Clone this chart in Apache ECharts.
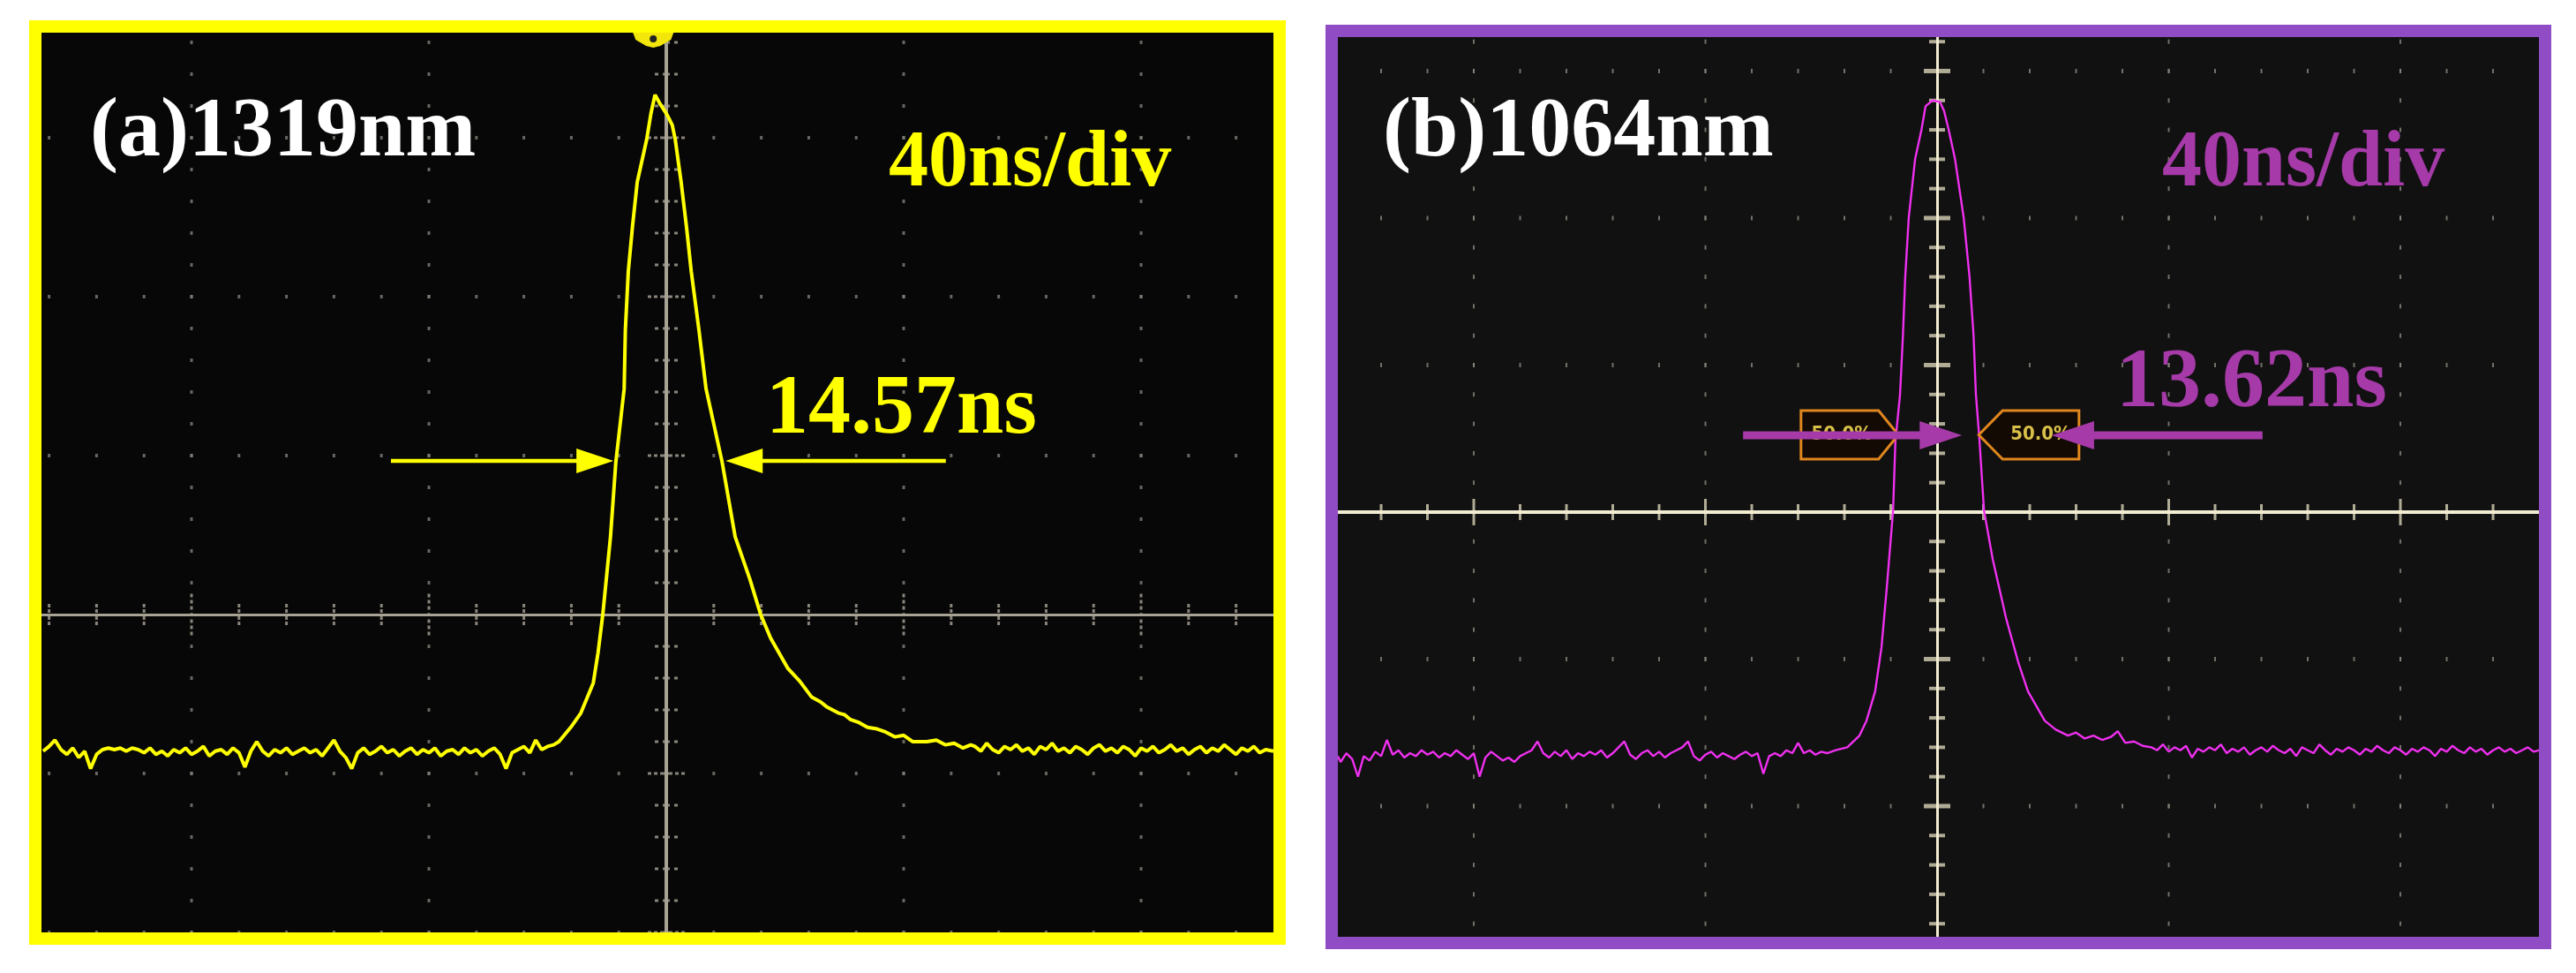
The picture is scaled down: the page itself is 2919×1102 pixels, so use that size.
<!DOCTYPE html>
<html><head><meta charset="utf-8">
<script src="https://cdn.jsdelivr.net/npm/echarts/dist/echarts.min.js"></script>
<style>html,body{margin:0;padding:0;background:#fff}#c{width:2919px;height:1102px}</style>
</head><body><div id="c"></div><script>
// ---- data (time in ns, amplitude in divisions) ----
const titles = ['(a)1319nm', '(b)1064nm'];
const scaleLabel = '40ns/div';
const widthLabels = ['14.57ns', '13.62ns'];
const markerLabel = '50.0%';
const majorX = [-80, -40, 40, 80];
const rowsA = [-2, -1, 1, 2, 3];
const rowsB = [-2, -1, 1, 2, 3];
const minorX = 8, minorY = 0.2;

const trace1319 = [
[-105,-0.86],[-104,-0.83],[-103,-0.79],[-102,-0.85],[-101,-0.88],[-100,-0.84],[-99,-0.90],[-98,-0.86],[-97,-0.97],[-96,-0.88],
[-95,-0.85],[-94,-0.84],[-93,-0.85],[-92,-0.84],[-91,-0.86],[-90,-0.84],[-89,-0.85],[-88,-0.87],[-87,-0.84],[-86,-0.88],
[-85,-0.86],[-84,-0.89],[-83,-0.85],[-82,-0.87],[-81,-0.84],[-80,-0.88],[-79,-0.86],[-78,-0.83],[-77,-0.89],[-76,-0.86],
[-75,-0.85],[-74,-0.88],[-73,-0.84],[-72,-0.87],[-71,-0.96],[-70,-0.86],[-69,-0.80],[-68,-0.86],[-67,-0.89],[-66,-0.85],
[-65,-0.87],[-64,-0.84],[-63,-0.88],[-62,-0.86],[-61,-0.84],[-60,-0.87],[-59,-0.85],[-58,-0.89],[-57,-0.84],[-56,-0.79],
[-55,-0.86],[-54,-0.90],[-53,-0.97],[-52,-0.87],[-51,-0.84],[-50,-0.88],[-49,-0.86],[-48,-0.83],[-47,-0.87],[-46,-0.85],
[-45,-0.89],[-44,-0.86],[-43,-0.84],[-42,-0.88],[-41,-0.85],[-40,-0.87],[-39,-0.84],[-38,-0.89],[-37,-0.86],[-36,-0.85],
[-35,-0.88],[-34,-0.84],[-33,-0.87],[-32,-0.85],[-31,-0.89],[-30,-0.86],[-29,-0.84],[-28,-0.88],[-27,-0.97],[-26,-0.87],
[-25,-0.85],[-24,-0.83],[-23,-0.87],[-22,-0.79],[-21,-0.85],[-20,-0.83],[-19,-0.82],
[-18.1,-0.80],[-16.1,-0.71],[-14.4,-0.62],[-12.3,-0.43],[-11.5,-0.24],[-10.7,0.0],[-9.4,0.49],[-8.5,0.96],[-7.1,1.42],[-6.9,1.79],
[-6.4,2.16],[-5.7,2.44],[-4.9,2.72],[-3.3,2.99],[-2.6,3.15],[-1.9,3.27],[-1.0,3.21],[0.2,3.14],[1.0,3.08],[1.5,2.99],
[2.5,2.72],[3.4,2.44],[4.2,2.16],[5.5,1.79],[6.7,1.42],[9.4,0.96],[11.6,0.49],[14.1,0.22],[15.9,0.0],[17.6,-0.15],
[20.5,-0.34],[22.5,-0.42],[24.5,-0.52],[26,-0.55],[27,-0.58],[28,-0.60],[29,-0.62],[30,-0.63],[31,-0.66],[32.5,-0.68],
[33.9,-0.71],[35.5,-0.72],[37,-0.74],[38.5,-0.77],[40,-0.76],[41.5,-0.80],[43.9,-0.80],[45.5,-0.79],[47,-0.82],[48.5,-0.81],
[50,-0.84],[51.3,-0.82],
[52,-0.83],[53,-0.86],[54,-0.81],[55,-0.85],[56,-0.87],[57,-0.83],[58,-0.85],[59,-0.82],[60,-0.86],[61,-0.84],
[62,-0.88],[63,-0.83],[64,-0.85],[65,-0.81],[66,-0.86],[67,-0.84],[68,-0.87],[69,-0.83],[70,-0.85],[71,-0.88],
[72,-0.84],[73,-0.82],[74,-0.86],[75,-0.84],[76,-0.87],[77,-0.83],[78,-0.85],[79,-0.89],[80,-0.84],[81,-0.86],
[82,-0.83],[83,-0.87],[84,-0.85],[85,-0.82],[86,-0.86],[87,-0.84],[88,-0.88],[89,-0.85],[90,-0.83],[91,-0.87],
[92,-0.84],[93,-0.86],[94,-0.82],[95,-0.85],[96,-0.88],[97,-0.84],[98,-0.86],[99,-0.83],[100,-0.87],[101,-0.85],[102.3,-0.86]
];

const trace1064 = [
[-103.5,-1.66],[-103,-1.70],[-102,-1.64],[-101,-1.68],[-100,-1.80],[-99,-1.66],[-98,-1.69],[-97,-1.63],[-96,-1.66],[-95,-1.55],[-94,-1.65],
[-93,-1.62],[-92,-1.67],[-91,-1.64],[-90,-1.66],[-89,-1.62],[-88,-1.65],[-87,-1.63],[-86,-1.67],[-85,-1.64],[-84,-1.66],
[-83,-1.62],[-82,-1.65],[-81,-1.68],[-80,-1.64],[-79,-1.80],[-78,-1.67],[-77,-1.63],[-76,-1.66],[-75,-1.69],[-74,-1.67],
[-73,-1.70],[-72,-1.66],[-71,-1.64],[-70,-1.62],[-69,-1.56],[-68,-1.64],[-67,-1.67],[-66,-1.63],[-65,-1.66],[-64,-1.62],
[-63,-1.68],[-62,-1.64],[-61,-1.66],[-60,-1.63],[-59,-1.65],[-58,-1.62],[-57,-1.67],[-56,-1.64],[-55,-1.60],[-54,-1.56],
[-53,-1.65],[-52,-1.68],[-51,-1.64],[-50,-1.62],[-49,-1.66],[-48,-1.63],[-47,-1.67],[-46,-1.64],[-45,-1.62],[-44,-1.60],
[-43,-1.56],[-42,-1.66],[-41,-1.69],[-40,-1.65],[-39,-1.63],[-38,-1.67],[-37,-1.64],[-36,-1.66],[-35,-1.68],[-34,-1.65],
[-33,-1.63],[-32,-1.66],[-31,-1.64],[-30,-1.78],[-29,-1.66],[-28,-1.64],[-27,-1.66],[-26,-1.62],[-25,-1.64],[-24,-1.57],
[-23,-1.64],[-22,-1.62],[-21,-1.65],[-20,-1.63],
[-19,-1.64],[-17.5,-1.62],[-15.5,-1.60],[-13.4,-1.52],[-12.2,-1.42],[-10.7,-1.22],[-9.6,-0.92],[-8.7,-0.52],[-7.6,0.01],[-7.2,0.48],
[-6.4,0.80],[-5.9,1.20],[-5.5,1.60],[-4.9,2.0],[-3.8,2.40],[-2.7,2.60],[-2.0,2.76],[-0.8,2.80],[0.5,2.79],[1.2,2.73],
[2.0,2.60],[3.1,2.40],[4.6,2.0],[5.6,1.60],[6.3,1.20],[6.7,0.80],[7.3,0.50],[8.1,0.01],[9.6,-0.32],[11.9,-0.72],
[14.0,-1.02],[15.7,-1.22],[18.6,-1.42],[20.5,-1.48],[22.6,-1.52],[24,-1.50],[25.5,-1.54],[27,-1.52],[28.5,-1.55],[30,-1.53],
[31.2,-1.49],[32.5,-1.57],[34,-1.56],[35.5,-1.59],
[37,-1.60],[38,-1.62],[39,-1.58],[40,-1.63],[41,-1.60],[42,-1.62],[43,-1.59],[44,-1.67],[45,-1.61],[46,-1.63],
[47,-1.60],[48,-1.62],[49,-1.58],[50,-1.64],[51,-1.61],[52,-1.63],[53,-1.60],[54,-1.65],[55,-1.62],[56,-1.60],
[57,-1.63],[58,-1.59],[59,-1.62],[60,-1.64],[61,-1.61],[62,-1.66],[63,-1.60],[64,-1.62],[65,-1.64],[66,-1.58],
[67,-1.62],[68,-1.65],[69,-1.61],[70,-1.63],[71,-1.60],[72,-1.62],[73,-1.65],[74,-1.61],[75,-1.63],[76,-1.59],
[77,-1.62],[78,-1.64],[79,-1.60],[80,-1.62],[81,-1.65],[82,-1.61],[83,-1.63],[84,-1.60],[85,-1.62],[86,-1.66],
[87,-1.61],[88,-1.63],[89,-1.59],[90,-1.62],[91,-1.64],[92,-1.60],[93,-1.63],[94,-1.61],[95,-1.65],[96,-1.62],
[97,-1.60],[98,-1.63],[99,-1.61],[100,-1.64],[101,-1.62],[102,-1.60],[103,-1.63],[104,-1.62]
];

// annotation anchors in data units
const arrowsA = {y: 0.967, left: [-46.4, -8.9], right: [47.1, 10.0]};
const arrowsB = {y: 0.523, left: [-33.5, 4.3], right: [56.2, 19.8]};
const boxesB = {top: 0.69, bottom: 0.36, left: [-23.5, -10.1, -6.7], right: [7.2, 11.3, 24.5]};
const triggerA = -2.2;

// ---- layout ----
const ranges = [
  {x: [-105.28, 102.3], y: [-2.0, 3.661]},
  {x: [-103.47, 103.92], y: [-2.889, 3.231]}
];

function gratDots(r, rows) {
  const pts = [];
  majorX.forEach(x => {
    for (let k = Math.ceil(r.y[0] / minorY - 1e-6); k * minorY <= r.y[1] + 1e-6; k++) pts.push([x, +(k * minorY).toFixed(3)]);
  });
  rows.forEach(y => {
    for (let k = Math.ceil(r.x[0] / minorX); k * minorX <= r.x[1]; k++) pts.push([k * minorX, y]);
  });
  return pts;
}
function vTicks(r, major) {
  const pts = [];
  for (let k = Math.ceil(r.y[0] / minorY - 1e-6); k * minorY <= r.y[1] + 1e-6; k++) {
    if (k === 0) continue;
    if ((k % 5 === 0) === major) pts.push([0, +(k * minorY).toFixed(3)]);
  }
  return pts;
}
function hTicks(r, major) {
  const pts = [];
  for (let k = Math.ceil(r.x[0] / minorX); k * minorX <= r.x[1]; k++) {
    if (k === 0) continue;
    if ((k % 5 === 0) === major) pts.push([k * minorX, 0]);
  }
  return pts;
}

const chart = echarts.init(document.getElementById('c'), null, {renderer: 'canvas'});
const grids = [
  {left: 47, top: 37, width: 1396, height: 1019, show: true, backgroundColor: '#070707', borderWidth: 0},
  {left: 1516, top: 42, width: 1361, height: 1019, show: true, backgroundColor: '#111111', borderWidth: 0}
];
const xAxes = ranges.map((r, i) => ({type: 'value', gridIndex: i, min: r.x[0], max: r.x[1], show: false}));
const yAxes = ranges.map((r, i) => ({type: 'value', gridIndex: i, min: r.y[0], max: r.y[1], show: false}));

const sty = [
  {dot: '#808078', dotSize: [3, 4], center: '#a8a294', centerV: 4, centerH: 3, tick: '#aaa498',
   vMinor: {symbol: 'path://M0,0h4v3h-4zM9,0h8v3h-8zM22,0h4v3h-4z', size: [26, 3]},
   vMajor: {symbol: 'path://M0,0h4v3h-4zM7,0h4v3h-4zM14,0h14v3h-14zM31,0h4v3h-4zM38,0h4v3h-4z', size: [42, 3]},
   hMinor: {symbol: 'path://M0,0h3v4h-3zM0,6h3v4h-3zM0,14h3v4h-3zM0,20h3v4h-3z', size: [3, 24]},
   hMajor: {symbol: 'path://M0,0h3v4h-3zM0,7h3v4h-3zM0,14h3v4h-3zM0,29h3v4h-3zM0,36h3v4h-3zM0,43h3v4h-3z', size: [3, 47]}},
  {dot: '#8a887e', dotSize: [2, 5], center: '#f2ecd2', centerV: 3, centerH: 4, tick: '#d8d2b6',
   vMinor: {symbol: 'rect', size: [18, 4]}, vMajor: {symbol: 'rect', size: [30, 5]},
   hMinor: {symbol: 'rect', size: [3, 18]}, hMajor: {symbol: 'rect', size: [3, 30]}}
];

const series = [];
[rowsA, rowsB].forEach((rows, g) => {
  const r = ranges[g], s = sty[g];
  series.push({
    type: 'scatter', xAxisIndex: g, yAxisIndex: g, data: gratDots(r, rows), symbol: 'rect', symbolSize: s.dotSize,
    itemStyle: {color: s.dot}, silent: true, animation: false, z: 1,
    markLine: {silent: true, symbol: ['none', 'none'], animation: false, label: {show: false},
      data: [
        {xAxis: 0, lineStyle: {color: s.center, width: s.centerV, type: 'solid'}},
        {yAxis: 0, lineStyle: {color: s.center, width: s.centerH, type: 'solid'}}
      ]}
  });
  [[vTicks(r, false), s.vMinor], [vTicks(r, true), s.vMajor], [hTicks(r, false), s.hMinor], [hTicks(r, true), s.hMajor]].forEach(([d, m]) => {
    series.push({type: 'scatter', xAxisIndex: g, yAxisIndex: g, data: d, symbol: m.symbol, symbolSize: m.size,
      itemStyle: {color: s.tick}, silent: true, animation: false, z: 2});
  });
});
series.push({type: 'line', xAxisIndex: 0, yAxisIndex: 0, data: trace1319, showSymbol: false, animation: false, z: 5,
  lineStyle: {color: '#ffff00', width: 4}});
series.push({type: 'line', xAxisIndex: 1, yAxisIndex: 1, data: trace1064, showSymbol: false, animation: false, z: 5,
  lineStyle: {color: '#f030f0', width: 2.4}});

chart.setOption({backgroundColor: '#ffffff', animation: false, grid: grids, xAxis: xAxes, yAxis: yAxes, series});

// ---- annotations ----
const P = (g, x, y) => chart.convertToPixel({gridIndex: g}, [x, y]);
function arrowEls(p0, p1, color, shaftW, headL, headW) {
  const dir = Math.sign(p1[0] - p0[0]);
  const bx = p1[0] - dir * headL;
  return [
    {type: 'line', shape: {x1: p0[0], y1: p0[1], x2: bx + dir * 2, y2: p1[1]}, style: {stroke: color, lineWidth: shaftW}, z: 120},
    {type: 'polygon', shape: {points: [[p1[0], p1[1]], [bx, p1[1] - headW / 2], [bx, p1[1] + headW / 2]]}, style: {fill: color}, z: 121}
  ];
}
const font = (sz) => 'bold ' + sz + 'px "Liberation Serif", "Times New Roman", serif';
function txt(x, y, t, color, sz) {
  return {type: 'text', x, y, z: 130, style: {text: t, fill: color, font: font(sz), align: 'left', verticalAlign: 'middle', textAlign: 'left', textVerticalAlign: 'middle'}};
}
const yel = '#ffff00', pur = '#a53aa8';
const g = [];
// frames
g.push({type: 'rect', shape: {x: 40, y: 30, width: 1410, height: 1033}, style: {fill: 'none', stroke: '#ffff00', lineWidth: 14}, z: 100});
g.push({type: 'rect', shape: {x: 1509, y: 35, width: 1375, height: 1033}, style: {fill: 'none', stroke: '#8f4cc4', lineWidth: 14}, z: 100});
// trigger marker
const tp = P(0, triggerA, ranges[0].y[1]);
g.push({type: 'polygon', shape: {points: [[tp[0] - 23, tp[1]], [tp[0] + 23, tp[1]], [tp[0] + 20, tp[1] + 8], [tp[0] + 8, tp[1] + 15], [tp[0], tp[1] + 17], [tp[0] - 8, tp[1] + 15], [tp[0] - 20, tp[1] + 8]]}, style: {fill: '#f2e60a'}, z: 110});
g.push({type: 'circle', shape: {cx: tp[0], cy: tp[1] + 7, r: 4}, style: {fill: '#222'}, z: 111});
// texts
g.push(txt(102, 151, titles[0], '#ffffff', 96));
g.push(txt(1007, 187, scaleLabel, yel, 90));
g.push(txt(868, 465, widthLabels[0], yel, 96));
g.push(txt(1567, 151, titles[1], '#ffffff', 96));
g.push(txt(2450, 187, scaleLabel, pur, 90));
g.push(txt(2398, 435, widthLabels[1], pur, 96));
// yellow arrows
g.push(...arrowEls(P(0, arrowsA.left[0], arrowsA.y), P(0, arrowsA.left[1], arrowsA.y), yel, 4.5, 42, 28));
g.push(...arrowEls(P(0, arrowsA.right[0], arrowsA.y), P(0, arrowsA.right[1], arrowsA.y), yel, 4.5, 42, 28));
// marker boxes
const bt = P(1, 0, boxesB.top)[1], bb = P(1, 0, boxesB.bottom)[1], bm = (bt + bb) / 2;
const L = boxesB.left.map(v => P(1, v, 0)[0]), R = boxesB.right.map(v => P(1, v, 0)[0]);
const boxFont = 'bold 22px "DejaVu Sans Condensed", "Liberation Sans", sans-serif';
g.push({type: 'polygon', shape: {points: [[L[0], bt], [L[1], bt], [L[2], bm], [L[1], bb], [L[0], bb]]}, style: {fill: '#140a04', stroke: '#e0861e', lineWidth: 3}, z: 112});
g.push({type: 'polygon', shape: {points: [[R[2], bt], [R[1], bt], [R[0], bm], [R[1], bb], [R[2], bb]]}, style: {fill: '#140a04', stroke: '#e0861e', lineWidth: 3}, z: 112});
g.push({type: 'text', x: (L[0] + L[1]) / 2 + 2, y: bm, z: 113, style: {text: markerLabel, fill: '#d8c048', font: boxFont, align: 'center', verticalAlign: 'middle', textAlign: 'center', textVerticalAlign: 'middle'}});
g.push({type: 'text', x: (R[1] + R[2]) / 2, y: bm, z: 113, style: {text: markerLabel, fill: '#d8c048', font: boxFont, align: 'center', verticalAlign: 'middle', textAlign: 'center', textVerticalAlign: 'middle'}});
// purple arrows
g.push(...arrowEls(P(1, arrowsB.left[0], arrowsB.y), P(1, arrowsB.left[1], arrowsB.y), pur, 9, 48, 32));
g.push(...arrowEls(P(1, arrowsB.right[0], arrowsB.y), P(1, arrowsB.right[1], arrowsB.y), pur, 9, 48, 32));

chart.setOption({graphic: g});
</script></body></html>
